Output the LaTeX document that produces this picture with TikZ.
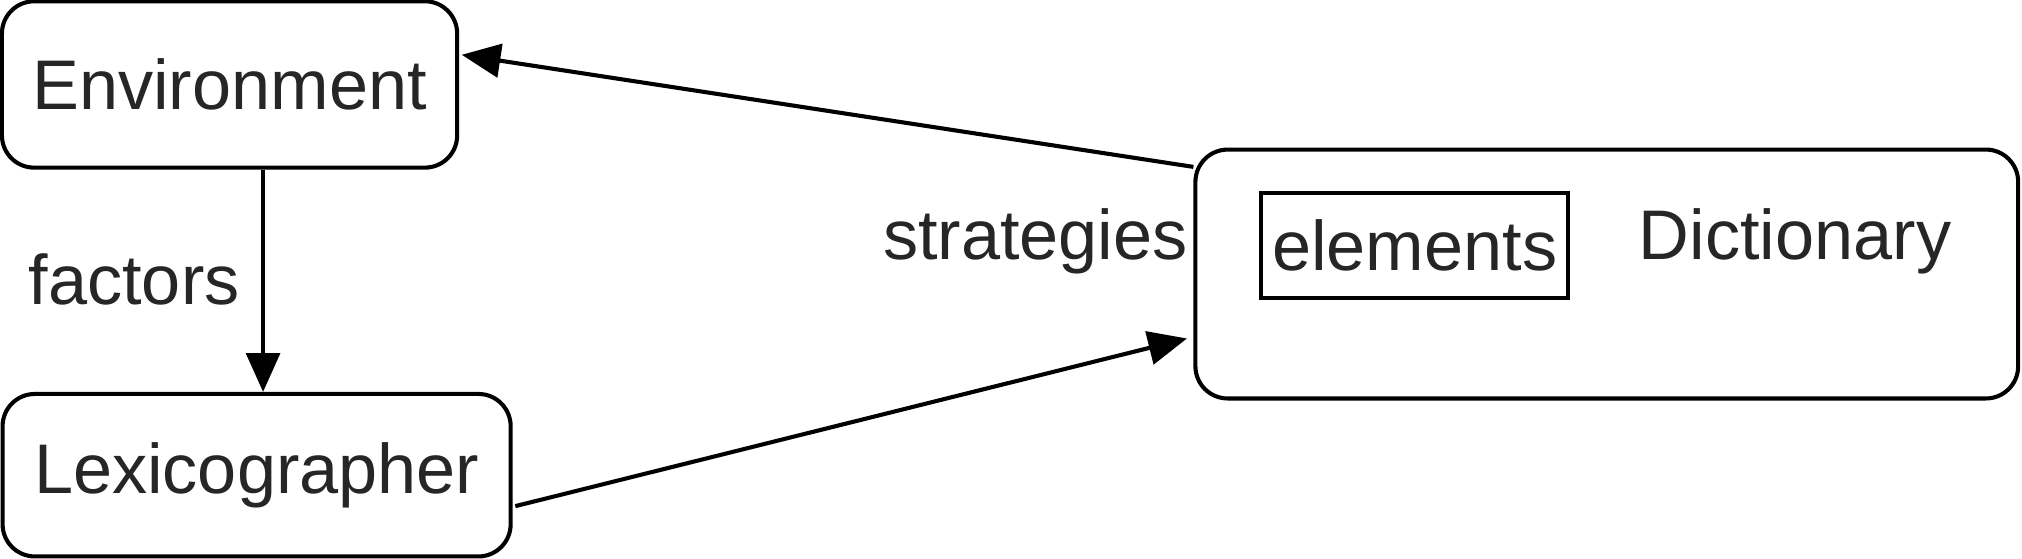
\documentclass[tikz,border=0pt]{standalone}
\usepackage{fontspec}
\setmainfont{Liberation Sans}
\usetikzlibrary{arrows.meta}
\begin{document}
\begin{tikzpicture}[
  box/.style={draw, line width=0.9pt, rounded corners=0.25cm, inner sep=0pt},
  plainbox/.style={draw, line width=0.9pt, inner sep=0pt},
  txt/.style={font=\fontsize{15.5}{18}\selectfont, text=black!85},
  link/.style={line width=0.9pt, -{Triangle[length=0.3cm, width=0.26cm]}}
]
\useasboundingbox (0,0) rectangle (15.68,4.33);
% Boxes
\node[box, minimum width=3.53cm, minimum height=1.29cm] (env) at (1.78,3.675) {};
\node[txt] at (env) {Environment};
\node[box, minimum width=3.94cm, minimum height=1.26cm] (lex) at (1.99,0.645) {};
\node[txt] at (lex) {Lexicographer};
\node[box, minimum width=6.38cm, minimum height=1.93cm] (dict) at (12.46,2.205) {};
\node[plainbox, minimum width=2.38cm, minimum height=0.81cm, txt] (elem) at (10.97,2.425) {elements};
\node[txt] (dictlabel) at (13.92,2.46) {Dictionary};

% Labels
\node[txt] (strat) at (8.03,2.46) {strategies};
\node[txt] (fact) at (1.04,2.16) {factors};

% Connectors
\draw[link] (env.south -| 2.04,0) -- (lex.north -| 2.04,0);
\draw[link] ([yshift=-0.15cm]dict.north west) -- ([yshift=0.23cm,xshift=0.02cm]env.east);
\draw[link] ([yshift=-0.24cm,xshift=0.02cm]lex.east) -- ([yshift=-0.5cm,xshift=-0.05cm]dict.west);
\end{tikzpicture}
\end{document}
